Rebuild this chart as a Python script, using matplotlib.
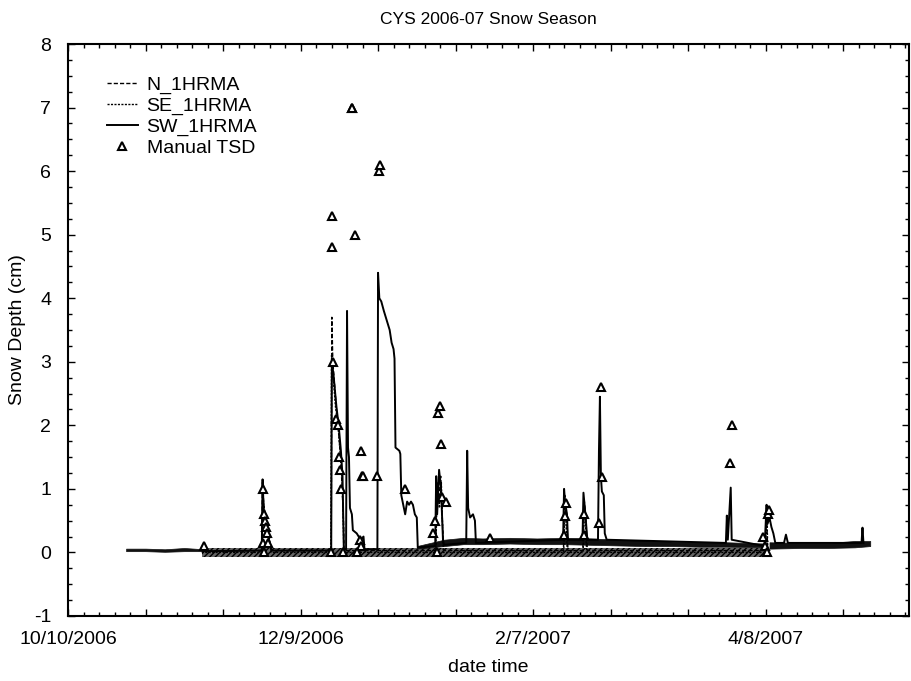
import pandas
import numpy
import matplotlib
matplotlib.use('Agg')
import matplotlib.pyplot as plt
import matplotlib.dates as mdates
from matplotlib.ticker import FixedLocator, FuncFormatter, MultipleLocator

plt.rcParams['font.family'] = ['Liberation Sans', 'DejaVu Sans']
plt.rcParams['axes.unicode_minus'] = False

title = 'CYS 2006-07 Snow Season'
x_label = 'date time'
y_label = 'Snow Depth (cm)'
x_start = '2006-10-10'
x_end = '2007-05-15'

# N_1HRMA (dashed)
n_times = ['2006-11-13 12:00', '2006-11-29 00:00', '2006-11-29 04:00', '2006-11-29 14:00',
           '2006-11-30 04:00', '2006-11-30 16:00', '2006-12-01 04:00', '2006-12-01 12:00',
           '2006-12-16 22:00', '2006-12-17 02:00', '2006-12-17 08:00', '2006-12-17 20:00',
           '2006-12-18 08:00', '2006-12-18 20:00', '2006-12-19 08:00', '2006-12-19 18:00',
           '2006-12-20 02:00', '2006-12-20 06:00', '2007-01-12 20:00', '2007-01-13 04:00',
           '2007-01-13 16:00', '2007-01-14 04:00', '2007-01-14 16:00', '2007-01-15 00:00',
           '2007-02-14 20:00', '2007-02-15 04:00', '2007-02-15 16:00', '2007-02-16 00:00',
           '2007-02-19 20:00', '2007-02-20 04:00', '2007-02-20 16:00', '2007-02-21 00:00',
           '2007-04-07 20:00', '2007-04-08 06:00', '2007-04-08 12:00']
n_values = [0.02, 0.03, 1.1, 0.7, 0.5, 0.3, 0.12, 0.03,
            0.03, 3.7, 3.0, 2.6, 2.2, 1.9, 1.5, 1.0, 0.5, 0.03,
            0.03, 1.1, 0.8, 1.2, 0.4, 0.03,
            0.03, 0.9, 0.6, 0.03,
            0.03, 0.85, 0.5, 0.03,
            0.03, 0.7, 0.03]

# SE_1HRMA (fine dashes)
se_times = ['2006-11-13 12:00', '2006-11-29 02:00', '2006-11-29 06:00', '2006-11-29 20:00',
            '2006-11-30 10:00', '2006-11-30 22:00', '2006-12-01 10:00', '2006-12-16 20:00',
            '2006-12-17 00:00', '2006-12-17 12:00', '2006-12-18 00:00', '2006-12-18 16:00',
            '2006-12-19 04:00', '2006-12-19 16:00', '2006-12-20 00:00', '2006-12-20 04:00',
            '2007-01-12 22:00', '2007-01-13 06:00', '2007-01-13 20:00', '2007-01-14 08:00',
            '2007-01-14 20:00', '2007-02-14 22:00', '2007-02-15 06:00', '2007-02-15 20:00',
            '2007-02-19 22:00', '2007-02-20 06:00', '2007-02-20 20:00', '2007-04-07 22:00',
            '2007-04-08 08:00', '2007-04-08 14:00']
se_values = [0.0, 0.0, 0.9, 0.6, 0.45, 0.25, 0.0, 0.0,
             3.1, 2.7, 2.3, 2.0, 1.6, 1.2, 0.6, 0.0,
             0.0, 1.0, 0.7, 1.1, 0.0, 0.0, 0.8, 0.0,
             0.0, 0.75, 0.0, 0.0, 0.6, 0.0]

# SW_1HRMA (solid)
sw_times = ['2006-11-14 00:00', '2006-11-29 00:00', '2006-11-29 05:00', '2006-11-29 12:00',
            '2006-11-30 00:00', '2006-11-30 12:00', '2006-12-01 00:00', '2006-12-01 12:00',
            '2006-12-16 22:00', '2006-12-17 02:00', '2006-12-17 12:00', '2006-12-18 06:00',
            '2006-12-18 20:00', '2006-12-19 10:00', '2006-12-19 20:00', '2006-12-20 04:00',
            '2006-12-20 18:00', '2006-12-21 00:00', '2006-12-21 06:00', '2006-12-21 12:00',
            '2006-12-21 18:00', '2006-12-22 06:00', '2006-12-22 12:00', '2006-12-23 12:00',
            '2006-12-24 12:00', '2006-12-25 06:00', '2006-12-25 12:00',
            '2006-12-28 20:00', '2006-12-29 00:00', '2006-12-29 08:00', '2006-12-29 20:00',
            '2006-12-30 12:00', '2006-12-31 00:00', '2006-12-31 12:00', '2007-01-01 00:00',
            '2007-01-01 12:00', '2007-01-02 00:00', '2007-01-02 06:00', '2007-01-02 12:00',
            '2007-01-03 12:00', '2007-01-03 18:00', '2007-01-04 00:00', '2007-01-04 12:00',
            '2007-01-05 00:00', '2007-01-05 12:00', '2007-01-06 00:00', '2007-01-06 12:00',
            '2007-01-07 00:00', '2007-01-07 12:00', '2007-01-08 00:00', '2007-01-08 06:00',
            '2007-01-12 18:00', '2007-01-13 00:00', '2007-01-13 06:00', '2007-01-13 18:00',
            '2007-01-14 06:00', '2007-01-14 18:00', '2007-01-15 00:00',
            '2007-01-20 18:00', '2007-01-21 00:00', '2007-01-21 06:00', '2007-01-21 18:00',
            '2007-01-22 12:00', '2007-01-23 00:00', '2007-01-23 06:00',
            '2007-02-14 18:00', '2007-02-15 00:00', '2007-02-15 06:00', '2007-02-15 18:00',
            '2007-02-16 00:00', '2007-02-19 18:00', '2007-02-20 00:00', '2007-02-20 12:00',
            '2007-02-21 00:00', '2007-02-23 18:00', '2007-02-24 00:00', '2007-02-24 06:00',
            '2007-02-24 12:00', '2007-02-24 18:00', '2007-02-25 06:00', '2007-02-25 12:00',
            '2007-02-26 00:00', '2007-03-28 18:00', '2007-03-29 00:00', '2007-03-29 06:00',
            '2007-03-30 00:00', '2007-03-30 06:00', '2007-04-07 18:00', '2007-04-08 06:00',
            '2007-04-08 12:00', '2007-04-09 00:00', '2007-04-09 12:00', '2007-04-10 00:00',
            '2007-04-10 12:00', '2007-04-12 18:00', '2007-04-13 06:00', '2007-04-13 18:00',
            '2007-05-02 18:00', '2007-05-03 00:00', '2007-05-03 06:00']
sw_values = [0.02, 0.03, 1.15, 0.65, 0.45, 0.3, 0.15, 0.03,
             0.03, 3.0, 2.8, 2.3, 2.0, 1.6, 1.2, 0.05,
             0.05, 3.8, 1.65, 1.5, 0.7, 0.6, 0.35, 0.3,
             0.2, 0.25, 0.05,
             0.05, 4.4, 4.0, 3.95, 3.8, 3.7, 3.6, 3.5,
             3.3, 3.2, 3.05, 1.65, 1.6, 1.55, 0.9, 0.75,
             0.6, 0.8, 0.75, 0.8, 0.75, 0.6, 0.55, 0.08,
             0.1, 1.2, 0.6, 1.3, 1.0, 0.2, 0.12,
             0.15, 1.6, 0.7, 0.55, 0.6, 0.5, 0.15,
             0.2, 1.0, 0.8, 0.6, 0.2, 0.2, 0.94, 0.6,
             0.2, 0.2, 1.6, 2.45, 1.2, 0.96, 0.9, 0.3,
             0.2, 0.15, 0.58, 0.2, 1.02, 0.2, 0.1, 0.75,
             0.45, 0.55, 0.4, 0.3, 0.15, 0.15, 0.28, 0.15,
             0.15, 0.39, 0.15]

# noisy SW background (range of hourly values)
sw_band_times = ['2006-10-25', '2006-10-30', '2006-11-04', '2006-11-09', '2006-11-14',
                 None,
                 '2007-01-08', '2007-01-15', '2007-01-20', '2007-01-25', '2007-02-01', '2007-02-08',
                 '2007-02-15', '2007-02-22', '2007-03-01', '2007-03-08', '2007-03-15', '2007-03-22',
                 '2007-03-29', '2007-04-08',
                 None,
                 '2007-04-09', '2007-04-17', '2007-04-24', '2007-05-01', '2007-05-05']
sw_band_low = [0.02, 0.02, 0.01, 0.02, 0.02,
               None,
               0.06, 0.1, 0.13, 0.13, 0.14, 0.13, 0.13, 0.12, 0.11, 0.1, 0.1, 0.09, 0.09, 0.08,
               None,
               0.06, 0.07, 0.07, 0.08, 0.1]
sw_band_high = [0.06, 0.06, 0.05, 0.07, 0.05,
                None,
                0.1, 0.2, 0.23, 0.22, 0.23, 0.22, 0.23, 0.22, 0.2, 0.19, 0.17, 0.16, 0.16, 0.14,
                None,
                0.16, 0.15, 0.15, 0.18, 0.18]

# N / SE hourly scatter around zero
ns_band_times = ['2006-11-13 12:00', '2007-04-08 06:00']
ns_band_low = [-0.07, -0.07]
ns_band_high = [0.07, 0.07]

# Manual TSD
tsd_times = ['2006-11-14 00:00', '2006-11-29 06:00', '2006-11-29 12:00', '2006-11-29 18:00',
             '2006-11-30 00:00', '2006-11-30 06:00', '2006-11-29 06:00', '2006-11-30 12:00',
             '2006-11-29 12:00', '2006-12-16 18:00', '2006-12-17 02:00', '2006-12-17 02:00',
             '2006-12-17 06:00', '2006-12-18 06:00', '2006-12-18 14:00', '2006-12-18 20:00',
             '2006-12-19 02:00', '2006-12-19 08:00', '2006-12-20 00:00', '2006-12-22 07:00',
             '2006-12-22 09:00', '2006-12-23 02:00', '2006-12-24 14:00', '2006-12-24 20:00',
             '2006-12-25 00:00', '2006-12-24 06:00', '2006-12-24 12:00', '2006-12-23 12:00',
             '2006-12-28 17:00', '2006-12-29 04:00', '2006-12-29 12:00', '2007-01-05 00:00',
             '2007-01-12 05:00', '2007-01-12 18:00', '2007-01-13 12:00', '2007-01-13 22:00',
             '2007-01-14 06:00', '2007-01-14 12:00', '2007-01-15 12:00', '2007-01-13 06:00',
             '2007-01-27 00:00', '2007-02-15 00:00', '2007-02-15 06:00', '2007-02-15 12:00',
             '2007-02-20 03:00', '2007-02-20 06:00', '2007-02-24 00:00', '2007-02-24 12:00',
             '2007-02-24 18:00', '2007-03-29 20:00', '2007-03-30 08:00', '2007-04-07 06:00',
             '2007-04-07 18:00', '2007-04-08 12:00', '2007-04-08 18:00', '2007-04-08 06:00']
tsd_values = [0.1, 1.0, 0.6, 0.5,
              0.4, 0.3, 0.15, 0.15,
              0.0, 0.0, 5.3, 4.8,
              3.0, 2.1, 2.0, 1.5,
              1.3, 1.0, 0.0, 7.0,
              7.0, 5.0, 1.6, 1.2,
              1.2, 0.2, 0.1, 0.0,
              1.2, 6.0, 6.1, 1.0,
              0.3, 0.5, 2.2, 2.3,
              1.7, 0.88, 0.8, 0.0,
              0.22, 0.28, 0.58, 0.78,
              0.28, 0.6, 0.47, 2.6,
              1.18, 1.4, 2.0, 0.25,
              0.1, 0.6, 0.67, 0.0]


def to_dt(lst):
    return [pandas.Timestamp(t) if t is not None else None for t in lst]


def split_segments(times, low, high):
    segs = []
    cur = []
    for t, lo, hi in zip(times, low, high):
        if t is None:
            segs.append(cur)
            cur = []
        else:
            cur.append((pandas.Timestamp(t), lo, hi))
    segs.append(cur)
    return segs


fig = plt.figure(figsize=(9.11, 6.81), dpi=100)
ax = fig.add_axes([68 / 911, 1 - 616 / 681, 841 / 911, 572 / 681])

# background bands
ax.fill_between(to_dt(ns_band_times), ns_band_low, ns_band_high,
                facecolor='#666666', edgecolor='black', hatch='//////', linewidth=0, zorder=1)
for seg in split_segments(sw_band_times, sw_band_low, sw_band_high):
    ts = [s[0] for s in seg]
    ax.fill_between(ts, [s[1] for s in seg], [s[2] for s in seg],
                    facecolor='#111111', edgecolor='#111111', linewidth=0.5, zorder=2)

ax.plot(to_dt(n_times), n_values, color='black', lw=1.0, ls=(0, (3, 1.5)), label='N_1HRMA', zorder=3)
ax.plot(to_dt(se_times), se_values, color='black', lw=1.0, ls=(0, (1.5, 1)), label='SE_1HRMA', zorder=3)
ax.plot(to_dt(sw_times), sw_values, color='black', lw=1.4, ls='-', label='SW_1HRMA', zorder=4)
ax.plot(to_dt(tsd_times), tsd_values, ls='none', marker='^', markersize=6,
        markerfacecolor='white', markeredgecolor='black', markeredgewidth=1.5,
        label='Manual TSD', zorder=5)

ax.set_xlim(pandas.Timestamp(x_start), pandas.Timestamp(x_end))
ax.set_ylim(-1, 8)

major = pandas.date_range(x_start, x_end, freq='20D')
minor = pandas.date_range(x_start, x_end, freq='4D')
major_num = mdates.date2num(major.to_pydatetime())
ax.xaxis.set_major_locator(FixedLocator(major_num))
ax.xaxis.set_minor_locator(FixedLocator(mdates.date2num(minor.to_pydatetime())))


def fmt_date(v, pos):
    d = mdates.num2date(v)
    idx = int(round((v - major_num[0]) / 20))
    if idx % 3 != 0:
        return ''
    return '%d/%d/%d' % (d.month, d.day, d.year)


ax.xaxis.set_major_formatter(FuncFormatter(fmt_date))
ax.yaxis.set_major_locator(MultipleLocator(1))
ax.yaxis.set_minor_locator(MultipleLocator(0.25))

ax.tick_params(which='both', direction='in', top=True, right=True, width=1.0, labelsize=14)
ax.tick_params(which='major', length=5)
ax.tick_params(which='minor', length=3)
ax.tick_params(axis='x', which='major', pad=11)
ax.tick_params(axis='y', which='major', pad=12)
for sp in ax.spines.values():
    sp.set_linewidth(1.5)

ax.set_xlabel(x_label, fontsize=14, va='center')
ax.xaxis.set_label_coords(0.5, -(668 - 616) / 572)
ax.set_ylabel(y_label, fontsize=14, va='center')
ax.yaxis.set_label_coords(-(68 - 18) / 841, 0.5)
fig.text(488 / 911, 1 - 19 / 681, title, fontsize=12.5, ha='center', va='center')

leg = ax.legend(loc='upper left', bbox_to_anchor=(0.046, 0.943), frameon=False,
                fontsize=14, handlelength=1.6, handletextpad=0.45, labelspacing=0.16,
                borderaxespad=0.0, borderpad=0.0)

fig.savefig('out.png', dpi=100)
